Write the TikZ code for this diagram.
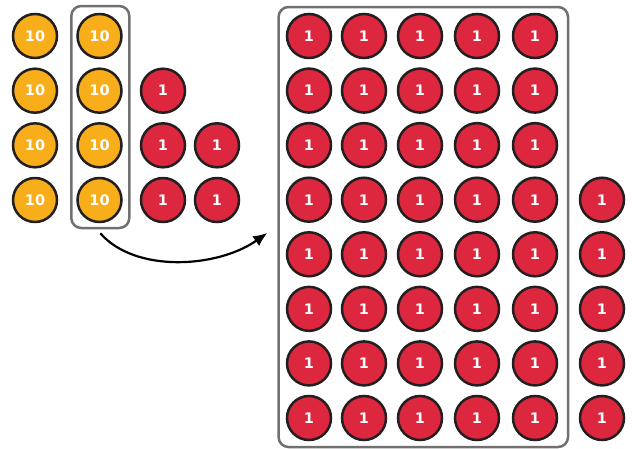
\documentclass[tikz,border=0pt]{standalone}
\usepackage{fontspec}
\setsansfont{DejaVu Sans}
\usetikzlibrary{arrows.meta}
\definecolor{tenorange}{RGB}{248,173,27}
\definecolor{onered}{RGB}{220,39,62}
\definecolor{rimgray}{RGB}{35,31,32}
\definecolor{boxgray}{RGB}{112,112,112}

\begin{document}
\begin{tikzpicture}[x=1pt, y=-1pt, >=Latex,
    coin/.style={circle, draw=rimgray, line width=2.5pt, minimum size=44pt, inner sep=0pt,
      text=white, font=\sffamily\bfseries\fontsize{14.5}{14.5}\selectfont},
    ten/.style={coin, fill=tenorange},
    one/.style={coin, fill=onered},
    group/.style={draw=boxgray, line width=2.5pt, rounded corners=10pt, inner sep=0pt}]
  \useasboundingbox (0,0) rectangle (637,448);
  % groups
  \node[group, minimum width=58pt, minimum height=222pt] (lbox) at (100.3,117) {};
  \node[group, minimum width=289.5pt, minimum height=440pt] (rbox) at (423.3,227) {};
  % tens and loose ones
  \foreach \r/\y in {1/36, 2/90.7, 3/145.3, 4/200} {
    \node[ten] (ta\r) at (35,\y) {10};
    \node[ten] (tb\r) at (99.5,\y) {10};
  }
  \foreach \r/\y in {2/90.7, 3/145.3, 4/200}
    \node[one] (oa\r) at (163,\y) {1};
  \foreach \r/\y in {3/145.3, 4/200}
    \node[one] (ob\r) at (217,\y) {1};
  % ones after regrouping
  \foreach \c/\x in {1/309, 2/364, 3/420, 4/477, 5/535} {
    \foreach \r in {1,...,8} {
      \node[one] (g\c\r) at (\x, {36+54.57*(\r-1)}) {1};
    }
  }
  \foreach \r in {4,...,8}
    \node[one] (x\r) at (602, {36+54.57*(\r-1)}) {1};
  \draw[->, line width=2.2pt, >={Latex[length=14pt,width=12pt]}]
    ([yshift=-4pt]lbox.south) .. controls +(35,40) and +(-50,35) .. ([xshift=-10pt,yshift=-6pt]rbox.west);
\end{tikzpicture}
\end{document}
